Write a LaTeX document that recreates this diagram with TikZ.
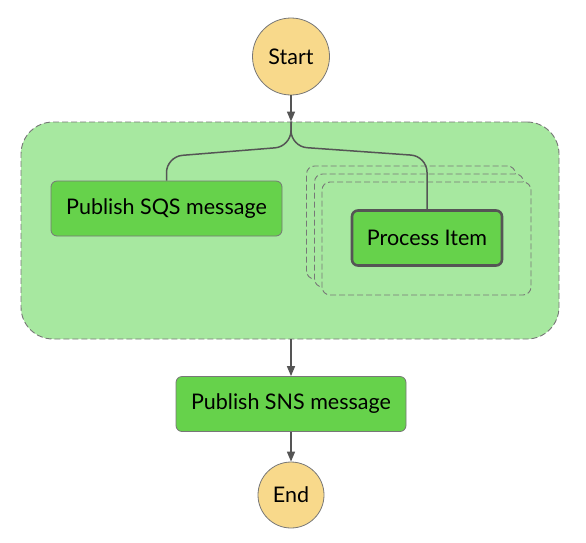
\documentclass[tikz,border=0pt]{standalone}
\usepackage{fontspec}
\setmainfont{Lato}
\usetikzlibrary{calc,arrows.meta}
\definecolor{startfill}{HTML}{F8D98B}
\definecolor{taskfill}{HTML}{66D24B}
\definecolor{mapfill}{HTML}{A7E8A0}
\definecolor{flowgray}{HTML}{555555}
\definecolor{edgegray}{HTML}{777777}
\begin{document}
\begin{tikzpicture}[x=1pt, y=-1pt,
		endpoint/.style={circle, draw=edgegray, fill=startfill, line width=0.8pt, font=\fontsize{21.5}{24}\selectfont},
		task/.style={draw=edgegray, fill=taskfill, rounded corners=6pt, line width=0.8pt, minimum height=55pt, font=\fontsize{21.5}{24}\selectfont},
		mapbox/.style={draw=edgegray, fill=mapfill, rounded corners=32pt, dash pattern=on 6pt off 3pt, line width=0.9pt},
		iteration/.style={draw=edgegray, fill=mapfill, rounded corners=8pt, dash pattern=on 6pt off 3pt, line width=0.9pt, minimum width=209pt, minimum height=113pt},
		flow/.style={draw=flowgray, line width=1.5pt, -{Triangle[length=10pt, width=8pt]}},
		branch/.style={draw=flowgray, line width=1.5pt, rounded corners=16pt}]
			%%%%% START %%%%%
			
			\useasboundingbox (0, 0) rectangle (586, 542);
			
			\node[endpoint, minimum size=77pt] (start) at (291, 56.5) {Start};
			
			\node[mapbox, minimum width=538pt, minimum height=217pt] (map) at (290, 230.5) {};
			
			\node[iteration] (iterback) at (411, 222.5) {};
			\node[iteration] (itermid) at (419, 230.5) {};
			\node[iteration] (iterfront) at (426.5, 238.5) {};
			
			\node[task, minimum width=231pt] (sqs) at (166.5, 208.5) {Publish SQS message};
			\node[task, minimum width=150pt, draw=flowgray, line width=2.6pt] (item) at (427, 238) {Process Item};
			
			\node[task, minimum width=230pt] (sns) at (291, 404) {Publish SNS message};
			\node[endpoint, minimum size=66pt] (end) at (291, 495) {End};
			
			\draw[flow] (start) -- (start |- map.north) coordinate (split);
			\draw[branch] (split) -- ($(split)+(0, 25)$) -- ($(sqs.north)+(0, -24)$) -- (sqs.north);
			\draw[branch] (split) -- ($(split)+(0, 25)$) -- ($(item.north)+(0, -53)$) -- (item.north);
			
			\draw[flow] (sns.north |- map.south) -- (sns);
			\draw[flow] (sns) -- (end);
			
			%%%%% END %%%%%
		\end{tikzpicture}
\end{document}
